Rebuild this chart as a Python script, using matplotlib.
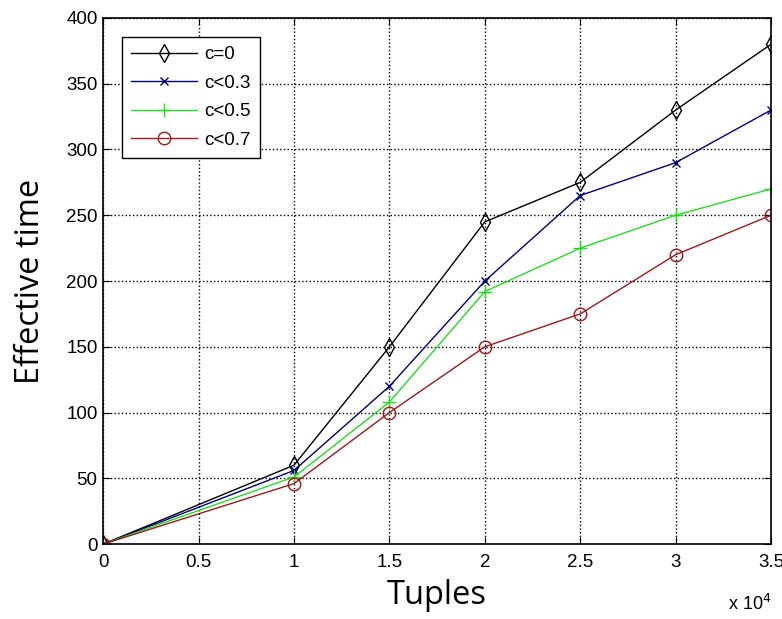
import numpy as np
import matplotlib
matplotlib.use("Agg")
import matplotlib.pyplot as plt

tuples = [0, 10000, 15000, 20000, 25000, 30000, 35000]
c0 = [0, 60, 150, 245, 275, 330, 380]
c03 = [0, 56, 120, 200, 265, 290, 330]
c05 = [0, 51, 108, 192, 225, 250, 270]
c07 = [0, 46, 100, 150, 175, 220, 250]

plt.rcParams['font.family'] = ['Liberation Sans', 'DejaVu Sans']

fig = plt.figure(figsize=(7.82, 6.19), dpi=100)
ax = fig.add_axes([0.132, 0.121, 0.854, 0.850])

x = np.array(tuples) / 1e4
ax.plot(x, c0, color='black', marker='d', mfc='none', ms=9, lw=1, label='c=0')
ax.plot(x, c03, color='#000080', marker='x', ms=6, lw=1, label='c<0.3')
ax.plot(x, c05, color='#22dd22', marker='+', ms=10, lw=1, label='c<0.5')
ax.plot(x, c07, color='#a01818', marker='o', mfc='none', ms=9, lw=1, label='c<0.7')

ax.set_xlim(0, 3.5)
ax.set_ylim(0, 400)
ax.set_xticks([0, 0.5, 1, 1.5, 2, 2.5, 3, 3.5])
ax.set_xticklabels(['0', '0.5', '1', '1.5', '2', '2.5', '3', '3.5'])
ax.set_yticks(range(0, 401, 50))
ax.tick_params(direction='in', labelsize=13.5, length=5, top=True, right=True)
ax.tick_params(axis='x', pad=7)
ax.tick_params(axis='y', pad=4)
ax.grid(True, linestyle=':', color='black', lw=1)
for s in ax.spines.values():
    s.set_linewidth(1.2)

ax.set_xlabel('Tuples', fontsize=23.5, family=['Open Sans', 'DejaVu Sans'], labelpad=6)
ax.set_ylabel('Effective time', fontsize=23.5, family=['Open Sans', 'DejaVu Sans'], labelpad=14)
ax.text(1.0, -0.095, r'x 10$^4$', transform=ax.transAxes, ha='right', va='top', fontsize=13)

leg = ax.legend(loc='upper left', bbox_to_anchor=(0.028, 0.964), borderaxespad=0,
                fontsize=13.5, fancybox=False, edgecolor='black', framealpha=1,
                handlelength=3.5, handletextpad=0.4, labelspacing=0.6, borderpad=0.5)
leg.get_frame().set_linewidth(1)

fig.savefig('out.png', dpi=100)
